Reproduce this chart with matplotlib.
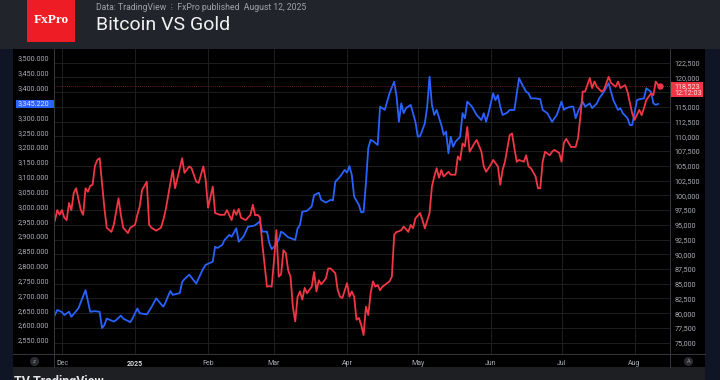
import matplotlib
matplotlib.use("Agg")
import matplotlib.pyplot as plt
import numpy as np
import pandas as pd
from matplotlib.patches import Rectangle
from matplotlib.lines import Line2D
from matplotlib.ticker import FuncFormatter
from matplotlib.transforms import blended_transform_factory

plt.rcParams['font.family'] = ['Roboto', 'DejaVu Sans']

# --- data ---
btc_dates = [
    "2024-11-28", "2024-11-29", "2024-11-30", "2024-12-01", "2024-12-02", "2024-12-03",
    "2024-12-04", "2024-12-05", "2024-12-06", "2024-12-07", "2024-12-09", "2024-12-10",
    "2024-12-11", "2024-12-12", "2024-12-13", "2024-12-14", "2024-12-15", "2024-12-16",
    "2024-12-17", "2024-12-19", "2024-12-20", "2024-12-22", "2024-12-23", "2024-12-25",
    "2024-12-26", "2024-12-27", "2024-12-29", "2024-12-30", "2025-01-01", "2025-01-02",
    "2025-01-03", "2025-01-04", "2025-01-06", "2025-01-07", "2025-01-08", "2025-01-10",
    "2025-01-12", "2025-01-13", "2025-01-14", "2025-01-17", "2025-01-18", "2025-01-21",
    "2025-01-22", "2025-01-24", "2025-01-25", "2025-01-27", "2025-01-28", "2025-01-30",
    "2025-01-31", "2025-02-01", "2025-02-03", "2025-02-04", "2025-02-06", "2025-02-07",
    "2025-02-08", "2025-02-09", "2025-02-11", "2025-02-12", "2025-02-13", "2025-02-14",
    "2025-02-15", "2025-02-17", "2025-02-19", "2025-02-20", "2025-02-21", "2025-02-22",
    "2025-02-23", "2025-02-24", "2025-02-26", "2025-02-27", "2025-02-28", "2025-03-01",
    "2025-03-02", "2025-03-03", "2025-03-04", "2025-03-05", "2025-03-06", "2025-03-07",
    "2025-03-08", "2025-03-09", "2025-03-10", "2025-03-11", "2025-03-12", "2025-03-13",
    "2025-03-14", "2025-03-15", "2025-03-17", "2025-03-18", "2025-03-19", "2025-03-20",
    "2025-03-21", "2025-03-23", "2025-03-24", "2025-03-25", "2025-03-27", "2025-03-28",
    "2025-03-29", "2025-03-30", "2025-04-01", "2025-04-02", "2025-04-03", "2025-04-04",
    "2025-04-05", "2025-04-06", "2025-04-07", "2025-04-08", "2025-04-09", "2025-04-10",
    "2025-04-11", "2025-04-12", "2025-04-13", "2025-04-14", "2025-04-15", "2025-04-16",
    "2025-04-18", "2025-04-19", "2025-04-20", "2025-04-21", "2025-04-22", "2025-04-23",
    "2025-04-24", "2025-04-25", "2025-04-27", "2025-04-28", "2025-04-29", "2025-04-30",
    "2025-05-02", "2025-05-03", "2025-05-04", "2025-05-06", "2025-05-07", "2025-05-08",
    "2025-05-09", "2025-05-10", "2025-05-11", "2025-05-12", "2025-05-14", "2025-05-15",
    "2025-05-17", "2025-05-18", "2025-05-19", "2025-05-20", "2025-05-21", "2025-05-22",
    "2025-05-23", "2025-05-25", "2025-05-26", "2025-05-28", "2025-05-29", "2025-05-30",
    "2025-06-01", "2025-06-02", "2025-06-04", "2025-06-05", "2025-06-06", "2025-06-07",
    "2025-06-09", "2025-06-10", "2025-06-11", "2025-06-12", "2025-06-13", "2025-06-15",
    "2025-06-16", "2025-06-17", "2025-06-18", "2025-06-20", "2025-06-21", "2025-06-22",
    "2025-06-23", "2025-06-24", "2025-06-26", "2025-06-27", "2025-06-28", "2025-06-30",
    "2025-07-01", "2025-07-02", "2025-07-03", "2025-07-05", "2025-07-07", "2025-07-08",
    "2025-07-09", "2025-07-10", "2025-07-11", "2025-07-13", "2025-07-14", "2025-07-15",
    "2025-07-16", "2025-07-18", "2025-07-19", "2025-07-21", "2025-07-22", "2025-07-24",
    "2025-07-25", "2025-07-26", "2025-07-28", "2025-07-29", "2025-07-31", "2025-08-01",
    "2025-08-03", "2025-08-04", "2025-08-05", "2025-08-06", "2025-08-08", "2025-08-09",
    "2025-08-10", "2025-08-11", "2025-08-12",
]
btc_vals = [
    95700, 97500, 96700, 97500, 96200, 95800,
    98700, 97500, 100400, 101200, 97500, 96700,
    101200, 100600, 101600, 101800, 105000, 106000,
    106300, 97900, 94500, 93800, 95000, 99500,
    96700, 94500, 93600, 94500, 95000, 96700,
    98100, 100900, 102300, 95000, 94500, 94000,
    94500, 95800, 97500, 104300, 101200, 106300,
    103800, 104900, 104600, 102300, 102100, 104900,
    102600, 97900, 101500, 97000, 96700, 96700,
    96700, 97500, 95800, 97500, 96700, 97700,
    96200, 95800, 96700, 98400, 96600, 96700,
    96300, 91900, 84500, 84600, 84500, 89000,
    94100, 86200, 86600, 90700, 90200, 87300,
    86200, 81100, 78600, 82800, 83700, 82300,
    84300, 83400, 84500, 87000, 83700, 85600,
    84900, 85900, 87600, 87600, 86800, 84000,
    82800, 82600, 85100, 82800, 83700, 82800,
    78900, 79200, 78000, 76300, 81100, 79700,
    83400, 85400, 84500, 84800, 83900, 84500,
    85100, 85400, 86200, 93300, 93800, 93900,
    94100, 94700, 93800, 95000, 94400, 96100,
    97000, 95800, 94400, 97000, 101500, 103200,
    104600, 103000, 104300, 103200, 104000, 103500,
    103500, 106600, 106000, 108800, 108300, 111600,
    107400, 108800, 109400, 107400, 104900, 104000,
    105200, 106000, 104900, 101800, 104300, 105700,
    110200, 110500, 108000, 105700, 106000, 105700,
    106800, 104900, 104600, 103200, 101200, 101200,
    105700, 107400, 106800, 107400, 107700, 107200,
    105700, 108900, 109600, 108200, 108200, 109700,
    113300, 117600, 117600, 119900, 118200, 119300,
    118400, 117600, 117900, 120100, 119100, 118400,
    119300, 118200, 118700, 117600, 113900, 112800,
    114500, 113600, 114800, 116200, 117300, 117000,
    119300, 118700, 118523,
]

gold_dates = [
    "2024-11-28", "2024-11-29", "2024-12-01", "2024-12-02", "2024-12-04", "2024-12-05",
    "2024-12-08", "2024-12-11", "2024-12-13", "2024-12-15", "2024-12-17", "2024-12-18",
    "2024-12-19", "2024-12-20", "2024-12-23", "2024-12-24", "2024-12-26", "2024-12-27",
    "2024-12-30", "2024-12-31", "2025-01-02", "2025-01-03", "2025-01-06", "2025-01-07",
    "2025-01-08", "2025-01-10", "2025-01-13", "2025-01-14", "2025-01-15", "2025-01-16",
    "2025-01-17", "2025-01-20", "2025-01-21", "2025-01-22", "2025-01-24", "2025-01-27",
    "2025-01-28", "2025-01-30", "2025-01-31", "2025-02-03", "2025-02-04", "2025-02-05",
    "2025-02-07", "2025-02-08", "2025-02-10", "2025-02-11", "2025-02-13", "2025-02-14",
    "2025-02-16", "2025-02-18", "2025-02-20", "2025-02-21", "2025-02-23", "2025-02-24",
    "2025-02-26", "2025-02-27", "2025-02-28", "2025-03-01", "2025-03-03", "2025-03-04",
    "2025-03-05", "2025-03-07", "2025-03-10", "2025-03-11", "2025-03-12", "2025-03-13",
    "2025-03-15", "2025-03-17", "2025-03-18", "2025-03-20", "2025-03-21", "2025-03-23",
    "2025-03-25", "2025-03-26", "2025-03-27", "2025-03-29", "2025-03-31", "2025-04-01",
    "2025-04-02", "2025-04-03", "2025-04-04", "2025-04-06", "2025-04-07", "2025-04-08",
    "2025-04-09", "2025-04-10", "2025-04-11", "2025-04-12", "2025-04-14", "2025-04-15",
    "2025-04-17", "2025-04-19", "2025-04-21", "2025-04-22", "2025-04-23", "2025-04-24",
    "2025-04-25", "2025-04-26", "2025-04-28", "2025-04-30", "2025-05-01", "2025-05-02",
    "2025-05-04", "2025-05-05", "2025-05-06", "2025-05-07", "2025-05-08", "2025-05-09",
    "2025-05-11", "2025-05-12", "2025-05-13", "2025-05-14", "2025-05-15", "2025-05-16",
    "2025-05-17", "2025-05-19", "2025-05-20", "2025-05-21", "2025-05-22", "2025-05-24",
    "2025-05-26", "2025-05-28", "2025-05-29", "2025-05-30", "2025-05-31", "2025-06-01",
    "2025-06-02", "2025-06-03", "2025-06-04", "2025-06-05", "2025-06-06", "2025-06-08",
    "2025-06-09", "2025-06-11", "2025-06-12", "2025-06-13", "2025-06-14", "2025-06-16",
    "2025-06-17", "2025-06-18", "2025-06-20", "2025-06-22", "2025-06-23", "2025-06-25",
    "2025-06-27", "2025-06-28", "2025-06-29", "2025-07-01", "2025-07-02", "2025-07-03",
    "2025-07-05", "2025-07-06", "2025-07-07", "2025-07-08", "2025-07-10", "2025-07-11",
    "2025-07-13", "2025-07-14", "2025-07-16", "2025-07-17", "2025-07-19", "2025-07-21",
    "2025-07-22", "2025-07-23", "2025-07-25", "2025-07-26", "2025-07-27", "2025-07-29",
    "2025-07-30", "2025-07-31", "2025-08-02", "2025-08-03", "2025-08-05", "2025-08-06",
    "2025-08-08", "2025-08-09", "2025-08-10", "2025-08-11",
]
gold_vals = [
    2634, 2651, 2644, 2634, 2645, 2628,
    2657, 2718, 2645, 2647, 2645, 2590,
    2600, 2622, 2612, 2617, 2632, 2622,
    2610, 2623, 2656, 2640, 2636, 2648,
    2661, 2690, 2662, 2677, 2697, 2715,
    2702, 2708, 2745, 2755, 2770, 2740,
    2758, 2791, 2803, 2814, 2864, 2860,
    2870, 2887, 2904, 2898, 2926, 2881,
    2898, 2932, 2934, 2937, 2949, 2915,
    2915, 2876, 2856, 2864, 2887, 2915,
    2910, 2896, 2887, 2926, 2937, 2982,
    2985, 3000, 3038, 3046, 3022, 3013,
    3022, 3020, 3083, 3100, 3123, 3114,
    3136, 3106, 3033, 3005, 2980, 2981,
    3078, 3197, 3224, 3220, 3207, 3336,
    3325, 3381, 3420, 3370, 3285, 3347,
    3314, 3331, 3342, 3285, 3235, 3237,
    3280, 3336, 3437, 3342, 3308, 3325,
    3274, 3241, 3252, 3179, 3235, 3201,
    3218, 3235, 3314, 3297, 3353, 3336,
    3308, 3291, 3314, 3285, 3314, 3347,
    3381, 3358, 3375, 3336, 3308, 3316,
    3325, 3325, 3381, 3432, 3415, 3386,
    3381, 3364, 3364, 3361, 3325, 3314,
    3285, 3297, 3308, 3353, 3325, 3331,
    3336, 3336, 3297, 3319, 3353, 3336,
    3347, 3331, 3347, 3364, 3386, 3415,
    3386, 3358, 3325, 3331, 3314, 3297,
    3274, 3274, 3358, 3361, 3364, 3398,
    3386, 3347, 3342, 3345.22,
]

month_starts = ["2024-12-01", "2025-01-01", "2025-02-01", "2025-03-01", "2025-04-01",
                "2025-05-01", "2025-06-01", "2025-07-01", "2025-08-01"]
month_labels = ["Dec", "2025", "Feb", "Mar", "Apr", "May", "Jun", "Jul", "Aug"]

gold_ticks = np.arange(2550, 3501, 50)
btc_ticks = np.arange(75000, 122501, 2500)

RED = "#f23645"
BLUE = "#2962ff"
LABEL = "#a9acb4"
GRID = "#1d1e21"
SEP = "#37383d"

W, H = 720, 380


def fx(px):
    return px / W


def fy(py):
    return 1 - py / H


fig = plt.figure(figsize=(7.2, 3.8), dpi=100, facecolor="#0f1524")

# background blocks: header, black chart panel, grey footer
fig.add_artist(Rectangle((0, fy(49)), 1, 49 / H, transform=fig.transFigure,
                         fc="#22242b", ec="none", zorder=-2))
fig.add_artist(Rectangle((fx(13), fy(367)), fx(705) - fx(13), (367 - 49) / H,
                         transform=fig.transFigure, fc="#000000", ec="none", zorder=-2))
fig.add_artist(Rectangle((fx(13), 0), fx(705) - fx(13), 13 / H,
                         transform=fig.transFigure, fc="#1e1f22", ec="none", zorder=-2))

rect = [fx(54), fy(354), fx(670) - fx(54), (354 - 49) / H]
xlim = (pd.Timestamp("2024-11-27 15:00"), pd.Timestamp("2025-08-16 01:00"))
gold_lim = (2502.7, 3530.3)
btc_lim = (73085, 124824)

# grid lives in its own axes under both series
gax = fig.add_axes(rect, facecolor="none")
gax.set_xlim(xlim)
gax.set_ylim(btc_lim)
gax.set_xticks(pd.to_datetime(month_starts))
gax.set_yticks(btc_ticks)
gax.grid(True, color=GRID, lw=0.7)
gax.tick_params(length=0, labelbottom=False, labelleft=False)
for s in gax.spines.values():
    s.set_visible(False)

# gold on the left scale
ax = fig.add_axes(rect, facecolor="none")
ax.plot(pd.to_datetime(gold_dates), gold_vals, color=BLUE, lw=1.3, solid_joinstyle="round")
ax.set_xlim(xlim)
ax.set_ylim(gold_lim)
ax.set_yticks(gold_ticks)
ax.yaxis.set_major_formatter(FuncFormatter(lambda v, p: f"{v:,.3f}"))
ax.set_xticks(pd.to_datetime(month_starts))
ax.set_xticklabels(month_labels)
ax.tick_params(axis="y", length=0, labelsize=5.2, colors=LABEL, pad=3.6)
ax.tick_params(axis="x", length=0, labelsize=5.0, colors=LABEL, pad=4.2)
for lbl in ax.get_xticklabels():
    if lbl.get_text() == "2025":
        lbl.set_fontweight("bold")
        lbl.set_color("#d8d9dc")
for s in ax.spines.values():
    s.set_visible(False)

# bitcoin on the right scale
ax2 = ax.twinx()
ax2.patch.set_visible(False)
ax2.axhline(btc_vals[-1], color="#8a2430", lw=0.6, ls=(0, (1, 1.5)), zorder=1)
ax2.plot(pd.to_datetime(btc_dates), btc_vals, color=RED, lw=1.3, solid_joinstyle="round", zorder=2)
ax2.plot(pd.to_datetime(btc_dates[-1]), btc_vals[-1], "o", color=RED, ms=3.6, zorder=3)
ax2.set_ylim(btc_lim)
ax2.set_yticks(btc_ticks)
ax2.yaxis.set_major_formatter(FuncFormatter(lambda v, p: f"{v:,.0f}"))
ax2.tick_params(axis="y", length=0, labelsize=5.2, colors=LABEL, pad=3.2)
for s in ax2.spines.values():
    s.set_visible(False)

# last price tags
tl = blended_transform_factory(ax.transAxes, ax.transData)
ax.add_patch(Rectangle((-0.0617, gold_vals[-1] - 12.8), 0.061, 25.6, transform=tl,
                       fc=BLUE, ec="none", clip_on=False, zorder=5))
ax.text(-0.0081, gold_vals[-1], f"{gold_vals[-1]:,.3f}", transform=tl, ha="right",
        va="center", fontsize=5.2, color="#dce3ff", clip_on=False, zorder=6)

tr = blended_transform_factory(ax2.transAxes, ax2.transData)
ax2.add_patch(Rectangle((1.0, btc_vals[-1] - 1815), 0.054, 2443, transform=tr,
                        fc=RED, ec="none", clip_on=False, zorder=5))
ax2.text(1.0065, btc_vals[-1], f"{btc_vals[-1]:,.0f}", transform=tr, ha="left",
         va="center", fontsize=5.2, color="#ffe3e5", clip_on=False, zorder=6)
ax2.text(1.0065, btc_vals[-1] - 1220, "12:12:03", transform=tr, ha="left",
         va="center", fontsize=5.2, color="#ffe3e5", clip_on=False, zorder=6)

# pane separators
for x in (54, 670):
    fig.add_artist(Line2D([fx(x), fx(x)], [fy(49), fy(367)], transform=fig.transFigure,
                          color=SEP, lw=0.7))
fig.add_artist(Line2D([fx(13), fx(705)], [fy(354), fy(354)], transform=fig.transFigure,
                      color=SEP, lw=0.7))

# small round buttons in the time scale row
fig.text(fx(34.5), fy(361.5), "z", ha="center", va="center", fontsize=4.2, color="#8a8d94",
         bbox=dict(boxstyle="circle,pad=0.35", fc="#2a2b30", ec="none"))
fig.text(fx(688.5), fy(361.5), "A", ha="center", va="center", fontsize=4.2, color="#8a8d94",
         bbox=dict(boxstyle="circle,pad=0.35", fc="#2a2b30", ec="none"))

# header
fig.add_artist(Rectangle((fx(27), fy(41.7)), fx(75) - fx(27), 41.7 / H,
                         transform=fig.transFigure, fc="#ee1c25", ec="none"))
fig.text(fx(51), fy(20), "FxPro", ha="center", va="center", fontsize=9.5,
         family="Liberation Serif", fontweight="bold", color="white")
fig.text(fx(96), fy(9.5), "Data: TradingView  \u205d  FxPro published  August 12, 2025",
         ha="left", va="baseline", fontsize=6.2, color="#a0a3aa")
fig.text(fx(96), fy(30.5), "Bitcoin VS Gold", ha="left", va="baseline", fontsize=14,
         color="#f2f2f2")

# footer logo, mostly cut off by the bottom edge (as in the source screenshot)
fig.text(fx(14), fy(375.5), "TV TradingView", ha="left", va="top", fontsize=9,
         fontweight="bold", color="#e6e6e6")

fig.savefig("out.png", dpi=100, facecolor=fig.get_facecolor())
